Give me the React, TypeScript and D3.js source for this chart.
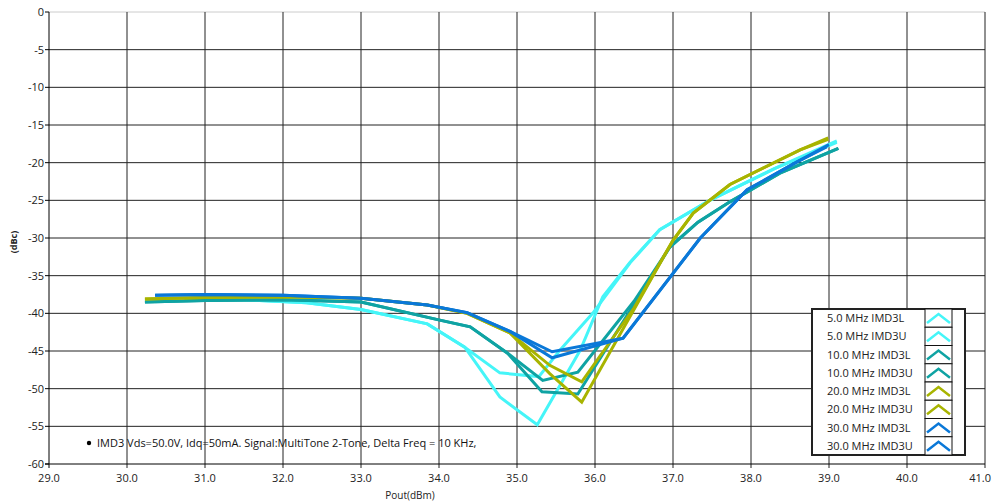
import React from "react";
import * as d3 from "d3";

const W = 993, H = 504;
const M = { left: 49, right: 985, top: 12, bottom: 464 };

const xTicks = [29, 30, 31, 32, 33, 34, 35, 36, 37, 38, 39, 40, 41];
const yTicks = [0, -5, -10, -15, -20, -25, -30, -35, -40, -45, -50, -55, -60];

const seriesNames = [
  "5.0 MHz IMD3L", "5.0 MHz IMD3U",
  "10.0 MHz IMD3L", "10.0 MHz IMD3U",
  "20.0 MHz IMD3L", "20.0 MHz IMD3U",
  "30.0 MHz IMD3L", "30.0 MHz IMD3U",
];
const seriesColors = [
  "#45f5f8", "#45f5f8",
  "#0fa3a3", "#0fa3a3",
  "#a8b400", "#a8b400",
  "#0a78d8", "#0a78d8",
];

const s5L: [number, number][] = [
  [30.74, -38.2], [31.5, -38.2], [32.3, -38.6], [33.0, -39.5], [33.85, -41.4],
  [34.33, -44.5], [34.78, -51.1], [35.26, -54.8], [35.81, -44.9], [36.1, -37.8],
  [36.45, -33.2], [36.83, -28.9], [37.47, -25.0], [38.3, -20.8], [39.1, -17.3],
];
const s5U: [number, number][] = [
  [30.74, -38.2], [31.5, -38.2], [32.3, -38.6], [33.0, -39.5], [33.85, -41.4],
  [34.33, -44.5], [34.78, -47.9], [35.28, -48.4], [35.55, -44.9], [35.97, -40.0],
  [36.45, -33.3], [36.83, -28.9], [37.47, -25.0], [38.3, -20.8], [39.1, -17.1],
];
const s10L: [number, number][] = [
  [30.23, -38.5], [31.0, -38.3], [32.0, -38.2], [33.0, -38.5], [34.01, -40.9],
  [34.4, -41.8], [34.88, -45.3], [35.32, -50.4], [35.78, -50.7], [36.5, -38.8],
  [36.96, -31.2], [37.32, -27.9], [37.73, -25.2], [38.37, -21.4], [39.12, -18.1],
];
const s10U: [number, number][] = [
  [30.23, -38.5], [31.0, -38.3], [32.0, -38.2], [33.0, -38.5], [34.01, -40.9],
  [34.4, -41.8], [34.88, -45.3], [35.33, -48.9], [35.78, -47.8], [36.5, -38.4],
  [36.96, -31.2], [37.32, -27.9], [37.73, -25.2], [38.37, -21.4], [39.12, -18.1],
];
const s20L: [number, number][] = [
  [30.23, -38.1], [31.0, -37.9], [32.0, -37.8], [33.0, -38.0], [33.85, -38.9],
  [34.36, -40.0], [34.91, -42.6], [35.42, -48.0], [35.83, -51.8], [36.5, -39.5],
  [37.0, -30.3], [37.26, -26.7], [37.73, -22.9], [38.63, -18.3], [38.99, -16.7],
];
const s20U: [number, number][] = [
  [30.23, -38.1], [31.0, -37.9], [32.0, -37.8], [33.0, -38.0], [33.85, -38.9],
  [34.36, -40.0], [34.91, -42.6], [35.42, -46.9], [35.83, -49.1], [36.5, -39.3],
  [37.0, -30.3], [37.26, -26.7], [37.73, -22.9], [38.63, -18.3], [38.99, -16.9],
];
const s30L: [number, number][] = [
  [30.36, -37.6], [31.0, -37.5], [32.0, -37.6], [33.0, -38.0], [33.85, -38.9],
  [34.36, -39.9], [34.91, -42.4], [35.45, -45.9], [36.36, -43.3], [37.35, -30.0],
  [37.95, -23.6], [38.59, -19.9], [38.97, -17.9],
];
const s30U: [number, number][] = [
  [30.36, -37.6], [31.0, -37.5], [32.0, -37.6], [33.0, -38.0], [33.85, -38.9],
  [34.36, -39.9], [34.91, -42.4], [35.45, -45.1], [36.36, -43.3], [37.35, -30.0],
  [37.95, -23.6], [38.59, -19.9], [39.0, -17.6],
];
const seriesData = [s5L, s5U, s10L, s10U, s20L, s20U, s30L, s30U];

const annotation = "IMD3 Vds=50.0V, Idq=50mA. Signal:MultiTone 2-Tone, Delta Freq = 10 KHz,";
const FONT = "'Open Sans', 'Noto Sans', sans-serif";

export default function App() {
  const x = d3.scaleLinear().domain([29, 41]).range([M.left, M.right]);
  const y = d3.scaleLinear().domain([-60, 0]).range([M.bottom, M.top]);
  const line = d3.line<[number, number]>().x(d => x(d[0])).y(d => y(d[1]));

  const lgX = 812, lgY = 309, lgW = 153, rowH = 18.25;
  const swX = 925, swW = 27;

  return (
    <svg width={W} height={H} style={{ position: "absolute", left: 0, top: 0, background: "#fff" }}>
      <rect x={0} y={0} width={W} height={H} fill="#fff" />
      {/* annotation (under grid) */}
      <circle cx={89} cy={443} r={2.2} fill="#000" />
      <text x={97} y={447} fontFamily={FONT} fontSize={11} fill="#111">{annotation}</text>
      {/* top border */}
      <line x1={M.left} x2={M.right} y1={M.top} y2={M.top} stroke="#ccc" />
      {/* grid */}
      {yTicks.filter(t => t !== 0 && t !== -60).map(t => (
        <line key={"gy" + t} x1={M.left} x2={M.right} y1={y(t)} y2={y(t)} stroke="#222" strokeWidth={1} />
      ))}
      {xTicks.filter(t => t !== 29).map(t => (
        <line key={"gx" + t} x1={x(t)} x2={x(t)} y1={M.top} y2={M.bottom + 4} stroke="#222" strokeWidth={1} />
      ))}
      {/* axes */}
      <line x1={M.left} x2={M.left} y1={M.top} y2={M.bottom + 4} stroke="#000" />
      <line x1={M.left - 4} x2={M.right} y1={M.bottom} y2={M.bottom} stroke="#000" />
      {yTicks.map(t => (
        <g key={"yt" + t}>
          <line x1={M.left - 4} x2={M.left} y1={y(t)} y2={y(t)} stroke="#000" />
          <text x={M.left - 5} y={y(t) + 4} textAnchor="end" fontFamily={FONT} fontSize={11} fill="#222">{t}</text>
        </g>
      ))}
      {xTicks.map((t, i) => {
        const last = i === xTicks.length - 1;
        return (
          <text key={"xt" + t} x={last ? W - 2 : x(t)} y={482} textAnchor={last ? "end" : "middle"} fontFamily={FONT} fontSize={11} fill="#222">{t.toFixed(1)}</text>
        );
      })}
      <text x={410} y={499} textAnchor="middle" fontFamily={FONT} fontSize={10} fill="#222">Pout(dBm)</text>
      <text transform="translate(17,242) rotate(-90)" textAnchor="middle" fontFamily={FONT} fontSize={9} fontWeight="bold" fill="#222">(dBc)</text>
      {/* series */}
      {seriesData.map((d, i) => (
        <path key={"s" + i} d={line(d) || ""} fill="none" stroke={seriesColors[i]} strokeWidth={3} strokeLinejoin="miter" />
      ))}
      {/* legend */}
      <rect x={lgX} y={lgY} width={lgW} height={rowH * 8} fill="#fff" stroke="#222" strokeWidth={2} />
      {seriesNames.map((n, i) => {
        const ry = lgY + i * rowH;
        const cx = swX + swW / 2;
        return (
          <g key={"lg" + i}>
            <text x={827} y={ry + 13} fontFamily={FONT} fontSize={11} fill="#222">{n}</text>
            <rect x={swX} y={ry} width={swW} height={rowH} fill="#fff" stroke="#111" strokeWidth={1} />
            <path d={`M${swX + 2},${ry + 14} L${cx},${ry + 5} L${swX + swW - 2},${ry + 14}`} fill="none" stroke={seriesColors[i]} strokeWidth={2.5} />
          </g>
        );
      })}
    </svg>
  );
}
